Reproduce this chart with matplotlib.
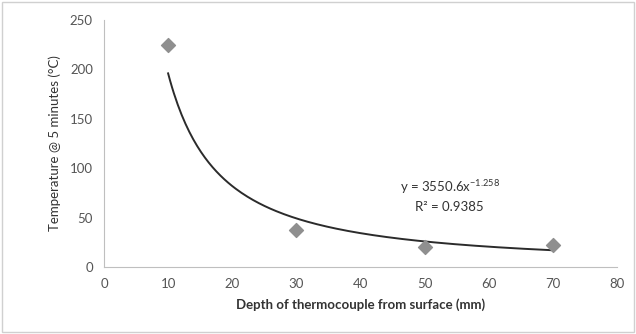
import matplotlib
matplotlib.use("Agg")
import matplotlib.pyplot as plt
import numpy as np

plt.rcParams['font.family'] = ['Lato', 'DejaVu Sans']
plt.rcParams['mathtext.default'] = 'regular'

depth = [10, 30, 50, 70]
temperature = [225, 37, 20, 22]
fit_a = 3550.6
fit_b = -1.258
r2_text = "R² = 0.9385"
eq_text = "y = 3550.6x$^{-1.258}$"

fig = plt.figure(figsize=(6.36, 3.34), dpi=100)
ax = fig.add_axes([0.1635, 0.2006, 0.8065, 0.7394])

xf = np.linspace(min(depth), max(depth), 200)
ax.plot(xf, fit_a * xf ** fit_b, color='#2b2b2b', lw=1.4, zorder=2)
ax.scatter(depth, temperature, marker='D', s=50, color='#8f8f8f', zorder=3)

ax.set_xlim(0, 80)
ax.set_ylim(0, 250)
ax.set_xticks(range(0, 81, 10))
ax.set_yticks(range(0, 251, 50))
for s in ['top', 'right']:
    ax.spines[s].set_visible(False)
for s in ['left', 'bottom']:
    ax.spines[s].set_color('#bfbfbf')
ax.tick_params(length=0, labelsize=9.5, colors='#555555', pad=8)
ax.set_xlabel("Depth of thermocouple from surface (mm)", fontsize=9.5,
              fontweight='bold', color='#333333', labelpad=6)
ax.set_ylabel("Temperature @ 5 minutes (°C)", fontsize=9.5,
              color='#333333', labelpad=6)
ax.text(0.577, 0.305, eq_text, transform=ax.transAxes, fontsize=9.5, color='#333333')
ax.text(0.606, 0.225, r2_text, transform=ax.transAxes, fontsize=9.5, color='#333333')

fig.patches.append(plt.Rectangle((0.003, 0.005), 0.994, 0.99, transform=fig.transFigure,
                                 fill=False, edgecolor='#d0d0d0', lw=1))
fig.savefig("out.png", dpi=100)
